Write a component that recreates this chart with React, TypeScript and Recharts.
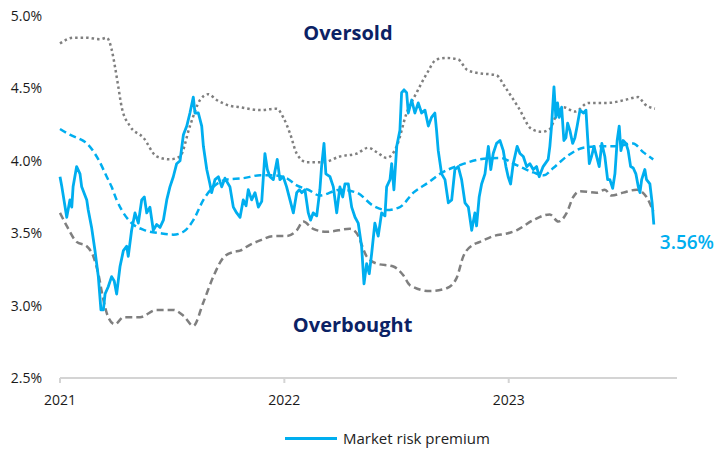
import { LineChart, Line, XAxis, YAxis, Legend, ReferenceDot } from "recharts";

const BLUE = "#00AEEF";
const GREY = "#7f7f7f";
const NAVY = "#0b2265";
const FONT = "'Open Sans', sans-serif";

const years = ["2021", "2022", "2023"];
const yTicks = [2.5, 3.0, 3.5, 4.0, 4.5, 5.0];

// [months since Jan 2021, value in %]
const riskPremium: [number, number][] = [
  [0.0, 3.89], [0.1, 3.82], [0.36, 3.61], [0.53, 3.73], [0.63, 3.68], [0.7, 3.82], [0.89, 3.96],
  [1.07, 3.91], [1.16, 3.82], [1.43, 3.73], [1.51, 3.66], [1.69, 3.54], [1.87, 3.38], [2.05, 3.2],
  [2.19, 2.97], [2.32, 2.97], [2.41, 3.08], [2.58, 3.13], [2.76, 3.2], [2.9, 3.17], [3.03, 3.08],
  [3.21, 3.27], [3.39, 3.38], [3.57, 3.41], [3.65, 3.34], [3.83, 3.52], [4.01, 3.64], [4.19, 3.57],
  [4.37, 3.73], [4.51, 3.75], [4.64, 3.64], [4.81, 3.68], [4.99, 3.52], [5.17, 3.56], [5.35, 3.54],
  [5.53, 3.59], [5.71, 3.73], [5.88, 3.82], [6.06, 3.89], [6.24, 3.98], [6.42, 4.0], [6.6, 4.18],
  [6.78, 4.24], [6.95, 4.33], [7.13, 4.44], [7.22, 4.33], [7.4, 4.33], [7.58, 4.24], [7.67, 4.1],
  [7.85, 3.94], [8.02, 3.84], [8.11, 3.78], [8.29, 3.87], [8.47, 3.89], [8.65, 3.82], [8.82, 3.88],
  [9.09, 3.82], [9.27, 3.68], [9.45, 3.64], [9.63, 3.61], [9.8, 3.73], [9.95, 3.69], [10.07, 3.8],
  [10.25, 3.73], [10.43, 3.78], [10.61, 3.68], [10.79, 3.72], [10.96, 4.05], [11.09, 3.94],
  [11.23, 3.89], [11.41, 3.87], [11.62, 4.01], [11.76, 3.87], [11.94, 3.89], [12.12, 3.82],
  [12.3, 3.73], [12.48, 3.64], [12.66, 3.78], [12.8, 3.8], [12.93, 3.78], [13.1, 3.8], [13.28, 3.64],
  [13.4, 3.59], [13.54, 3.64], [13.73, 3.62], [13.9, 3.8], [13.99, 3.96], [14.12, 4.12], [14.22, 3.91],
  [14.44, 3.89], [14.62, 3.82], [14.8, 3.64], [14.97, 3.82], [15.12, 3.75], [15.24, 3.84], [15.42, 3.84],
  [15.6, 3.68], [15.78, 3.61], [15.95, 3.57], [16.13, 3.41], [16.26, 3.15], [16.4, 3.29], [16.54, 3.22],
  [16.67, 3.36], [16.84, 3.57], [17.02, 3.48], [17.2, 3.64], [17.38, 3.62], [17.47, 3.82], [17.65, 3.87],
  [17.74, 3.98], [17.86, 3.8], [18.01, 4.1], [18.18, 4.21], [18.27, 4.47], [18.4, 4.49], [18.54, 4.47],
  [18.63, 4.33], [18.81, 4.42], [18.98, 4.33], [19.16, 4.4], [19.34, 4.33], [19.52, 4.35], [19.7, 4.24],
  [19.87, 4.3], [20.05, 4.33], [20.14, 4.21], [20.23, 4.07], [20.41, 3.91], [20.59, 3.87], [20.77, 3.71],
  [20.95, 3.73], [21.12, 3.94], [21.3, 3.96], [21.48, 3.87], [21.66, 3.71], [21.84, 3.68], [22.02, 3.52],
  [22.19, 3.64], [22.28, 3.55], [22.42, 3.75], [22.55, 3.84], [22.73, 3.91], [22.91, 4.1], [23.04, 3.94],
  [23.17, 4.05], [23.35, 4.12], [23.53, 4.14], [23.71, 4.07], [23.85, 3.96], [23.97, 3.89], [24.1, 3.84],
  [24.24, 3.98], [24.45, 4.1], [24.6, 4.05], [24.78, 4.03], [24.96, 3.96], [25.13, 3.98], [25.31, 3.94],
  [25.49, 3.96], [25.63, 3.89], [25.84, 3.96], [26.11, 4.01], [26.2, 4.1], [26.29, 4.24], [26.42, 4.51],
  [26.52, 4.3], [26.61, 4.4], [26.7, 4.3], [26.83, 4.37], [26.95, 4.14], [27.06, 4.16], [27.15, 4.26],
  [27.27, 4.21], [27.42, 4.12], [27.54, 4.16], [27.66, 4.24], [27.81, 4.35], [27.99, 4.33], [28.13, 4.35],
  [28.22, 4.16], [28.31, 3.98], [28.43, 4.03], [28.56, 4.1], [28.7, 4.03], [28.84, 3.96], [28.98, 4.12],
  [29.14, 4.03], [29.29, 3.87], [29.41, 3.87], [29.56, 3.81], [29.68, 3.91], [29.8, 4.14], [29.91, 4.24],
  [30.0, 4.07], [30.12, 4.14], [30.27, 4.12], [30.39, 4.07], [30.52, 3.96], [30.66, 3.95], [30.8, 3.91],
  [30.93, 3.82], [31.02, 3.78], [31.11, 3.87], [31.28, 3.94], [31.37, 3.87], [31.55, 3.84], [31.67, 3.71],
  [31.76, 3.56],
];

const movingAvg: [number, number][] = [
  [0.0, 4.22], [0.53, 4.18], [1.07, 4.15], [1.34, 4.13], [2.05, 4.01], [2.5, 3.89], [2.76, 3.82],
  [3.03, 3.73], [3.3, 3.66], [3.83, 3.57], [4.55, 3.52], [5.35, 3.5], [6.06, 3.49], [6.6, 3.51],
  [7.13, 3.59], [7.67, 3.73], [8.2, 3.82], [8.91, 3.87], [9.8, 3.88], [10.7, 3.9], [11.41, 3.9],
  [12.12, 3.88], [12.66, 3.83], [13.28, 3.8], [13.9, 3.76], [14.97, 3.8], [15.87, 3.78], [16.75, 3.69],
  [17.47, 3.66], [18.18, 3.68], [18.9, 3.78], [19.7, 3.85], [20.32, 3.91], [21.39, 3.97], [22.46, 4.01],
  [23.53, 4.02], [24.42, 3.97], [25.31, 3.92], [25.88, 3.9], [26.38, 3.95], [27.1, 4.03], [27.99, 4.09],
  [28.88, 4.1], [29.77, 4.1], [30.66, 4.12], [31.19, 4.06], [31.73, 4.01],
];

const upperBand: [number, number][] = [
  [0.0, 4.81], [0.71, 4.85], [1.43, 4.85], [2.14, 4.84], [2.5, 4.85], [2.76, 4.77], [2.94, 4.65],
  [3.12, 4.51], [3.3, 4.37], [3.74, 4.24], [4.46, 4.16], [5.17, 4.03], [5.88, 4.01], [6.42, 4.03],
  [6.95, 4.24], [7.49, 4.42], [7.93, 4.46], [8.38, 4.42], [9.09, 4.38], [9.63, 4.37], [10.7, 4.35],
  [11.59, 4.36], [11.94, 4.3], [12.3, 4.19], [12.66, 4.05], [13.19, 3.99], [14.08, 3.99], [14.97, 4.03],
  [15.87, 4.05], [16.49, 4.09], [16.94, 4.06], [17.47, 4.02], [18.01, 4.1], [18.54, 4.33], [19.07, 4.47],
  [19.61, 4.6], [20.14, 4.7], [20.68, 4.71], [21.3, 4.7], [21.75, 4.63], [22.19, 4.61], [23.35, 4.59],
  [23.8, 4.51], [24.51, 4.37], [25.22, 4.22], [25.76, 4.2], [26.2, 4.22], [26.56, 4.32], [26.92, 4.37],
  [27.54, 4.34], [28.26, 4.4], [29.32, 4.4], [30.21, 4.42], [30.92, 4.44], [31.28, 4.39], [31.82, 4.36],
];

const lowerBand: [number, number][] = [
  [0.0, 3.64], [0.36, 3.55], [0.89, 3.44], [1.43, 3.41], [1.78, 3.34], [2.05, 3.22], [2.32, 3.04],
  [2.58, 2.92], [2.94, 2.87], [3.39, 2.92], [4.28, 2.92], [5.17, 2.97], [6.06, 2.97], [6.6, 2.93],
  [7.13, 2.86], [7.66, 3.02], [8.2, 3.2], [8.73, 3.33], [9.27, 3.37], [9.63, 3.38], [10.16, 3.42],
  [10.7, 3.45], [11.41, 3.48], [12.12, 3.48], [12.66, 3.52], [13.01, 3.58], [13.54, 3.53], [14.26, 3.51],
  [15.51, 3.53], [15.87, 3.5], [16.4, 3.34], [16.94, 3.29], [17.83, 3.27], [18.36, 3.21], [18.72, 3.14],
  [19.79, 3.1], [20.68, 3.12], [21.21, 3.19], [21.57, 3.34], [22.1, 3.42], [22.46, 3.44], [23.17, 3.48],
  [23.97, 3.5], [24.42, 3.52], [25.31, 3.59], [26.2, 3.63], [26.65, 3.58], [27.1, 3.64], [27.45, 3.75],
  [27.81, 3.79], [28.7, 3.78], [29.14, 3.8], [29.5, 3.76], [30.12, 3.78], [30.84, 3.8], [31.37, 3.75],
  [31.73, 3.65],
];

const toPoints = (rows: [number, number][]) => rows.map(([t, v]) => ({ t, v }));

const last = riskPremium[riskPremium.length - 1];

const legendContent = () => (
  <div
    style={{
      height: 43,
      boxSizing: "border-box",
      paddingTop: 21,
      paddingLeft: 285,
      display: "flex",
      alignItems: "flex-start",
      fontFamily: FONT,
      fontSize: 15,
      lineHeight: "18px",
      color: "#222",
    }}
  >
    <span style={{ display: "inline-block", width: 52, height: 3, marginTop: 8, background: BLUE, marginRight: 6 }} />
    Market risk premium
  </div>
);

export default function App() {
  return (
    <div style={{ position: "absolute", left: 0, top: 0, background: "#fff" }}>
      <LineChart width={715} height={451} margin={{ top: 16, right: 38, bottom: 0, left: 0 }}>
        <XAxis
          type="number"
          dataKey="t"
          domain={[0, 33]}
          ticks={[0, 12, 24]}
          tickFormatter={(m: number) => years[Math.round(m / 12)]}
          height={30}
          axisLine={{ stroke: "#d4d4d4", strokeWidth: 2 }}
          tickLine={{ stroke: "#d4d4d4", strokeWidth: 2 }}
          tickSize={5}
          tickMargin={12}
          tick={{ fill: "#1a1a1a", fontSize: 14, fontFamily: FONT }}
        />
        <YAxis
          type="number"
          domain={[2.5, 5.0]}
          ticks={yTicks}
          width={60}
          axisLine={false}
          tickLine={false}
          tickMargin={12}
          tickFormatter={(v: number) => `${v.toFixed(1)}%`}
          tick={{ fill: "#1a1a1a", fontSize: 14, fontFamily: FONT }}
        />
        <Legend verticalAlign="bottom" wrapperStyle={{ left: 0, width: 715 }} content={legendContent} />
        <Line
          data={toPoints(upperBand)}
          dataKey="v"
          type="monotone"
          stroke={GREY}
          strokeWidth={2.5}
          strokeDasharray="2.5 3"
          dot={false}
          legendType="none"
          isAnimationActive={false}
        />
        <Line
          data={toPoints(lowerBand)}
          dataKey="v"
          type="monotone"
          stroke={GREY}
          strokeWidth={2.5}
          strokeDasharray="7 4"
          dot={false}
          legendType="none"
          isAnimationActive={false}
        />
        <Line
          data={toPoints(movingAvg)}
          dataKey="v"
          type="monotone"
          stroke={BLUE}
          strokeWidth={2.5}
          strokeDasharray="7 4"
          dot={false}
          legendType="none"
          isAnimationActive={false}
        />
        <Line
          data={toPoints(riskPremium)}
          dataKey="v"
          name="Market risk premium"
          type="linear"
          stroke={BLUE}
          strokeWidth={2.8}
          strokeLinejoin="round"
          dot={false}
          isAnimationActive={false}
        />
        <ReferenceDot
          x={15.4}
          y={4.88}
          r={0}
          label={{ value: "Oversold", position: "center", fill: NAVY, fontSize: 20, fontWeight: 700, fontFamily: FONT }}
        />
        <ReferenceDot
          x={15.65}
          y={2.87}
          r={0}
          label={{ value: "Overbought", position: "center", fill: NAVY, fontSize: 20, fontWeight: 700, fontFamily: FONT }}
        />
        <ReferenceDot
          x={last[0]}
          y={last[1]}
          r={0}
          label={(props: any) => (
            <text
              x={props.viewBox.x + 6}
              y={props.viewBox.y + 24}
              fill={BLUE}
              fontSize={19}
              fontWeight={600}
              fontFamily={FONT}
            >
              {`${last[1].toFixed(2)}%`}
            </text>
          )}
        />
      </LineChart>
    </div>
  );
}
